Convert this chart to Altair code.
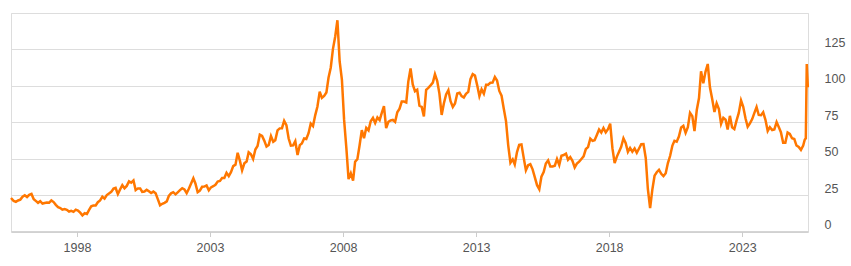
import altair as alt
import pandas as pd

# Monthly price readings (mid-month), 1996 starts in April
p1996 = [23.0, 21.0, 20.4, 21.3, 21.9, 23.9, 24.9, 23.7, 25.2]
p1997 = [25.8, 22.2, 21.0, 19.7, 20.8, 19.2, 19.6, 19.9, 19.8, 21.3, 20.2, 18.3]
p1998 = [16.7, 16.1, 15.0, 15.4, 14.9, 13.7, 14.2, 13.5, 15.0, 14.4, 12.9, 11.0]
p1999 = [12.5, 12.0, 14.7, 17.3, 17.8, 17.9, 20.1, 21.3, 23.9, 22.6, 25.0, 26.1]
p2000 = [27.2, 29.4, 29.9, 25.7, 28.8, 31.8, 29.7, 31.3, 34.5, 33.5, 35.0, 28.4]
p2001 = [29.6, 29.6, 27.2, 27.4, 28.6, 27.6, 26.4, 27.4, 26.2, 22.2, 18.0, 19.0]
p2002 = [19.7, 20.7, 24.4, 26.2, 27.0, 25.5, 26.9, 28.4, 29.7, 28.9, 26.3, 29.4]
p2003 = [32.9, 36.5, 33.0, 27.0, 28.1, 30.7, 30.8, 31.6, 28.3, 30.3, 31.1, 32.1]
p2004 = [34.3, 34.7, 36.7, 36.7, 40.3, 38.0, 40.7, 44.9, 45.9, 54.0, 48.5, 42.0]
p2005 = [46.8, 48.0, 54.3, 53.0, 49.8, 56.3, 58.7, 66.5, 65.6, 62.4, 58.3, 59.4]
p2006 = [65.5, 61.6, 62.7, 69.4, 70.8, 70.9, 76.0, 73.0, 63.8, 58.9, 59.1, 62.0]
p2007 = [52.5, 59.3, 60.4, 63.9, 63.5, 67.5, 74.1, 72.4, 79.9, 85.8, 96.0, 91.7]
p2008 = [93.0, 95.4, 105.5, 112.6, 125.4, 133.9, 145.0, 116.7, 104.1, 76.6, 57.3, 36.0]
p2009 = [40.0, 35.0, 47.9, 49.7, 59.0, 69.6, 64.1, 71.1, 69.4, 75.7, 78.0, 74.5]
p2010 = [78.3, 76.4, 81.2, 86.0, 71.0, 75.3, 76.3, 76.6, 75.2, 81.9, 84.3, 89.2]
p2011 = [89.2, 88.6, 102.9, 112.0, 100.9, 96.3, 97.3, 86.3, 85.5, 79.0, 97.2, 98.6]
p2012 = [100.3, 102.2, 108.0, 103.3, 94.7, 80.0, 87.9, 94.1, 97.0, 89.5, 85.5, 87.9]
p2013 = [94.8, 95.3, 92.9, 92.0, 94.5, 95.8, 104.6, 108.0, 107.0, 100.5, 93.0, 97.6]
p2014 = [94.6, 100.8, 100.8, 102.1, 102.2, 106.0, 103.6, 96.5, 93.2, 84.4, 75.8, 59.3]
p2015 = [47.2, 49.5, 46.0, 54.5, 59.5, 59.8, 50.9, 42.0, 45.5, 46.2, 42.7, 37.3]
p2016 = [31.8, 29.0, 37.6, 40.8, 46.7, 48.8, 44.7, 44.7, 45.2, 49.8, 45.7, 52.0]
p2017 = [52.5, 53.5, 49.3, 51.1, 48.5, 44.0, 46.6, 48.0, 49.8, 51.6, 56.6, 57.9]
p2018 = [63.7, 62.2, 62.7, 66.3, 70.0, 67.9, 71.0, 68.1, 70.2, 74.0, 57.0, 47.0]
p2019 = [51.4, 55.0, 58.2, 64.0, 60.8, 54.7, 57.4, 54.8, 57.0, 54.0, 57.0, 59.9]
p2020 = [60.0, 50.5, 29.2, 16.0, 28.6, 38.3, 40.7, 42.3, 39.6, 38.0, 40.0, 47.0]
p2021 = [52.0, 59.0, 62.3, 61.7, 65.2, 71.4, 72.5, 67.7, 71.6, 81.5, 79.2, 69.0]
p2022 = [83.2, 91.6, 110.0, 101.8, 109.6, 115.0, 99.0, 91.0, 82.0, 88.0, 84.0, 74.0]
p2023 = [78.1, 76.8, 70.0, 79.4, 71.6, 70.3, 76.1, 81.4, 90.0, 85.6, 77.7, 71.9]
p2024 = [74.2, 77.2, 81.3, 85.4, 80.0, 79.8, 81.8, 76.7, 69.0, 71.6, 69.7, 70.1]
p2025 = [75.1, 71.5, 68.2, 61.0, 61.0, 68.0, 67.0, 64.0, 63.5, 59.0, 58.0, 56.0]

tail_dates = ["2026-01-15", "2026-02-05", "2026-02-20", "2026-03-05", "2026-03-20"]
tail_prices = [59.0, 63.0, 64.0, 115.0, 99.0]

years = list(range(1996, 2026))
monthly = [p1996, p1997, p1998, p1999, p2000, p2001, p2002, p2003, p2004, p2005,
           p2006, p2007, p2008, p2009, p2010, p2011, p2012, p2013, p2014, p2015,
           p2016, p2017, p2018, p2019, p2020, p2021, p2022, p2023, p2024, p2025]

dates, vals = [], []
for yr, arr in zip(years, monthly):
    m0 = 13 - len(arr)
    for i, v in enumerate(arr):
        dates.append(f"{yr}-{m0 + i:02d}-15")
        vals.append(v)
dates[0] = "1996-04-09"
dates += tail_dates
vals += tail_prices

df = pd.DataFrame({"date": dates, "price": vals})

tick_years = [1998, 2003, 2008, 2013, 2018, 2023]
y_ticks = [0, 25, 50, 75, 100, 125, 150]

chart = alt.Chart(df).mark_line(color="#ff7700", strokeWidth=2.5, clip=False).encode(
    x=alt.X("date:T",
            scale=alt.Scale(domain=[alt.DateTime(year=1996, month=4, date=9),
                                    alt.DateTime(year=2026, month=3, date=22)]),
            axis=alt.Axis(title=None, format="%Y", grid=False,
                          values=[alt.DateTime(year=y, month=10, date=1) for y in tick_years],
                          domainColor="#cccccc", domainWidth=1.5,
                          tickColor="#cccccc", tickSize=5,
                          labelColor="#555555", labelFontSize=12.5,
                          labelFont="Liberation Sans", labelPadding=5)),
    y=alt.Y("price:Q",
            scale=alt.Scale(domain=[0, 150], nice=False),
            axis=alt.Axis(title=None, orient="right", values=y_ticks,
                          labelExpr="datum.value == 150 ? '' : datum.label",
                          grid=True, gridColor="#dddddd", gridWidth=1,
                          domain=False, ticks=False, tickSize=0,
                          labelAlign="left", labelBaseline="alphabetic",
                          labelOffset=-3, labelPadding=16,
                          labelColor="#555555", labelFontSize=12.5,
                          labelFont="Liberation Sans")),
).properties(
    width=797, height=218.5,
    autosize=alt.AutoSizeParams(type="none"),
    padding={"left": 11, "top": 13, "right": 43, "bottom": 34.5},
).configure_view(stroke=None).configure(background="white")

chart.save("out.html", embed_options={"renderer": "svg", "actions": False})
